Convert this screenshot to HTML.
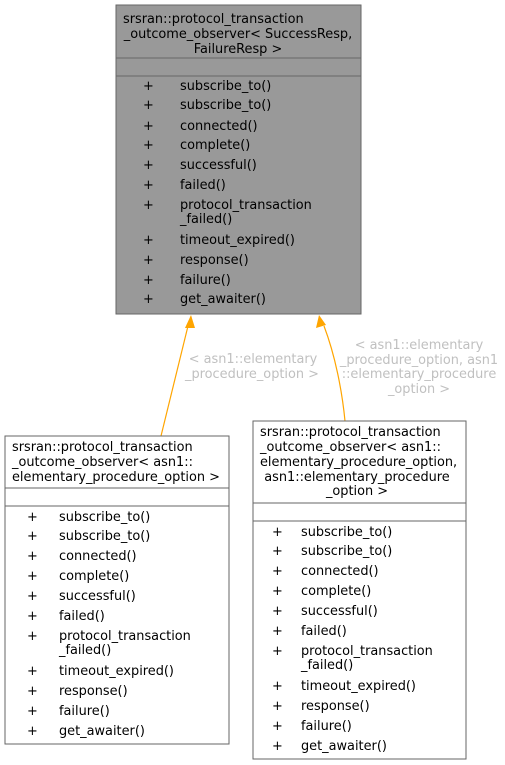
<!DOCTYPE html>
<html><head><meta charset="utf-8"><style>
html,body{margin:0;padding:0;background:#fff;}
svg{display:block;}
text{font-family:"DejaVu Sans","Liberation Sans",sans-serif;font-size:12.9px;fill:#000;}
.l{fill:#c0c0c0;}
</style></head><body>
<svg width="505" height="765" viewBox="0 0 505 765" xmlns="http://www.w3.org/2000/svg">
<!-- top box -->
<rect x="116" y="5" width="245" height="309" fill="#999999" stroke="#666" stroke-width="1"/>
<line x1="116" y1="58" x2="361" y2="58" stroke="#666"/>
<line x1="116" y1="76" x2="361" y2="76" stroke="#666"/>
<text x="123" y="23">srsran::protocol_transaction</text>
<text x="238" y="38" text-anchor="middle">_outcome_observer&lt; SuccessResp,</text>
<text x="238" y="53" text-anchor="middle">FailureResp &gt;</text>
<g>
<text x="143" y="90">+</text><text x="180" y="90">subscribe_to()</text>
<text x="143" y="109">+</text><text x="180" y="109">subscribe_to()</text>
<text x="143" y="130">+</text><text x="180" y="130">connected()</text>
<text x="143" y="149">+</text><text x="180" y="149">complete()</text>
<text x="143" y="169">+</text><text x="180" y="169">successful()</text>
<text x="143" y="189">+</text><text x="180" y="189">failed()</text>
<text x="143" y="209">+</text><text x="180" y="209">protocol_transaction</text><text x="180" y="223">_failed()</text>
<text x="143" y="244">+</text><text x="180" y="244">timeout_expired()</text>
<text x="143" y="264">+</text><text x="180" y="264">response()</text>
<text x="143" y="284">+</text><text x="180" y="284">failure()</text>
<text x="143" y="303">+</text><text x="180" y="303">get_awaiter()</text>
</g>
<!-- edges -->
<path d="M161,436 L188,326" stroke="orange" stroke-width="1.2" fill="none"/>
<polygon points="191,315 185,328 195,328" fill="orange"/>
<path d="M345,421 C342,390 335,355 324,326" stroke="orange" stroke-width="1.2" fill="none"/>
<polygon points="319,315 316,328 326,325" fill="orange"/>
<text class="l" x="253" y="363" text-anchor="middle">&lt; asn1::elementary</text>
<text class="l" x="252" y="378" text-anchor="middle">_procedure_option &gt;</text>
<text class="l" x="419" y="349" text-anchor="middle">&lt; asn1::elementary</text>
<text class="l" x="419" y="364" text-anchor="middle">_procedure_option, asn1</text>
<text class="l" x="419" y="378" text-anchor="middle">::elementary_procedure</text>
<text class="l" x="419" y="393" text-anchor="middle">_option &gt;</text>
<!-- left box -->
<rect x="5" y="436" width="224" height="308" fill="#fff" stroke="#666"/>
<line x1="5" y1="488" x2="229" y2="488" stroke="#666"/>
<line x1="5" y1="506" x2="229" y2="506" stroke="#666"/>
<text x="12" y="451">srsran::protocol_transaction</text>
<text x="12" y="466">_outcome_observer&lt; asn1::</text>
<text x="12" y="481">elementary_procedure_option &gt;</text>
<g>
<text x="27" y="521">+</text><text x="59" y="521">subscribe_to()</text>
<text x="27" y="540">+</text><text x="59" y="540">subscribe_to()</text>
<text x="27" y="560">+</text><text x="59" y="560">connected()</text>
<text x="27" y="580">+</text><text x="59" y="580">complete()</text>
<text x="27" y="600">+</text><text x="59" y="600">successful()</text>
<text x="27" y="620">+</text><text x="59" y="620">failed()</text>
<text x="27" y="640">+</text><text x="59" y="640">protocol_transaction</text><text x="59" y="654">_failed()</text>
<text x="27" y="675">+</text><text x="59" y="675">timeout_expired()</text>
<text x="27" y="695">+</text><text x="59" y="695">response()</text>
<text x="27" y="715">+</text><text x="59" y="715">failure()</text>
<text x="27" y="735">+</text><text x="59" y="735">get_awaiter()</text>
</g>
<!-- right box -->
<rect x="253" y="421" width="213" height="338" fill="#fff" stroke="#666"/>
<line x1="253" y1="503" x2="466" y2="503" stroke="#666"/>
<line x1="253" y1="521" x2="466" y2="521" stroke="#666"/>
<text x="260" y="436">srsran::protocol_transaction</text>
<text x="260" y="451">_outcome_observer&lt; asn1::</text>
<text x="260" y="466">elementary_procedure_option,</text>
<text x="357" y="481" text-anchor="middle">asn1::elementary_procedure</text>
<text x="357" y="495" text-anchor="middle">_option &gt;</text>
<g>
<text x="272" y="536">+</text><text x="301" y="536">subscribe_to()</text>
<text x="272" y="555">+</text><text x="301" y="555">subscribe_to()</text>
<text x="272" y="575">+</text><text x="301" y="575">connected()</text>
<text x="272" y="595">+</text><text x="301" y="595">complete()</text>
<text x="272" y="615">+</text><text x="301" y="615">successful()</text>
<text x="272" y="635">+</text><text x="301" y="635">failed()</text>
<text x="272" y="655">+</text><text x="301" y="655">protocol_transaction</text><text x="301" y="669">_failed()</text>
<text x="272" y="690">+</text><text x="301" y="690">timeout_expired()</text>
<text x="272" y="710">+</text><text x="301" y="710">response()</text>
<text x="272" y="730">+</text><text x="301" y="730">failure()</text>
<text x="272" y="750">+</text><text x="301" y="750">get_awaiter()</text>
</g>
</svg>
</body></html>
